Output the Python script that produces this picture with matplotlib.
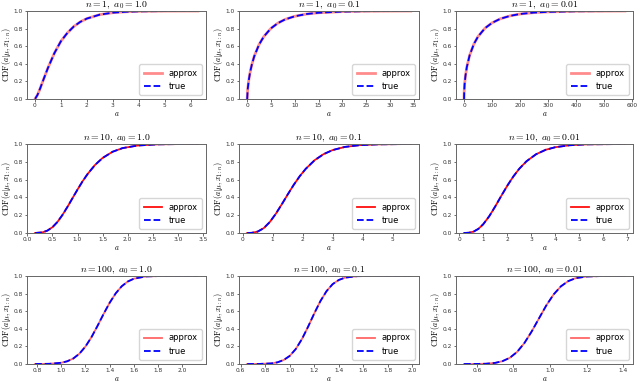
import matplotlib
matplotlib.use("Agg")
import matplotlib.pyplot as plt

# ---- data ----
n_values = [1, 10, 100]
a0_values = ["1.0", "0.1", "0.01"]

# row 1 : n = 1
x_n1_a1 = [0.01, 0.1, 0.2, 0.35, 0.5, 0.75, 1.0, 1.25, 1.5, 1.75, 2.0, 2.5, 3.0, 3.5, 4.0, 5.0, 6.27]
cdf_n1_a1 = [0.002, 0.046, 0.118, 0.236, 0.351, 0.521, 0.656, 0.751, 0.825, 0.877, 0.914, 0.959, 0.981, 0.991, 0.996, 0.999, 1.0]

x_n1_a01 = [0.0, 0.1, 0.3, 0.6, 1.0, 1.5, 2.5, 3.5, 5.0, 6.5, 8.0, 10.0, 12.5, 15.0, 20.0, 25.0, 34.4]
cdf_n1_a01 = [0.0, 0.106, 0.202, 0.300, 0.396, 0.488, 0.619, 0.710, 0.803, 0.864, 0.905, 0.940, 0.966, 0.980, 0.993, 0.998, 1.0]

x_n1_a001 = [0.0, 0.5, 2, 5, 10, 20, 35, 50, 75, 100, 130, 165, 200, 250, 300, 400, 575]
cdf_n1_a001 = [0.0, 0.084, 0.168, 0.262, 0.364, 0.497, 0.624, 0.710, 0.805, 0.865, 0.912, 0.945, 0.966, 0.982, 0.990, 0.997, 1.0]

# row 2 : n = 10
x_n10_a1 = [0.155, 0.3, 0.4, 0.5, 0.6, 0.7, 0.8, 0.9, 1.0, 1.1, 1.2, 1.35, 1.5, 1.7, 1.9, 2.2, 2.6, 3.0, 3.4]
cdf_n10_a1 = [0.0003, 0.007, 0.027, 0.065, 0.124, 0.203, 0.294, 0.391, 0.488, 0.580, 0.662, 0.765, 0.843, 0.913, 0.954, 0.983, 0.996, 0.999, 1.0]

x_n10_a01 = [0.15, 0.3, 0.5, 0.7, 0.9, 1.1, 1.3, 1.5, 1.7, 1.9, 2.1, 2.4, 2.7, 3.0, 3.4, 3.9, 4.5, 5.6]
cdf_n10_a01 = [0.0001, 0.002, 0.016, 0.054, 0.122, 0.214, 0.321, 0.433, 0.541, 0.638, 0.721, 0.819, 0.887, 0.932, 0.967, 0.987, 0.996, 1.0]

x_n10_a001 = [0.2, 0.4, 0.6, 0.8, 1.0, 1.25, 1.5, 1.75, 2.0, 2.25, 2.5, 2.8, 3.2, 3.6, 4.0, 4.6, 5.3, 6.9]
cdf_n10_a001 = [0.0002, 0.003, 0.016, 0.047, 0.099, 0.189, 0.299, 0.417, 0.531, 0.634, 0.722, 0.806, 0.885, 0.935, 0.964, 0.986, 0.996, 1.0]

# row 3 : n = 100
x_n100_a1 = [0.784, 0.90, 1.00, 1.05, 1.10, 1.15, 1.20, 1.25, 1.30, 1.35, 1.40, 1.45, 1.50, 1.55, 1.60, 1.70, 1.80, 1.95, 2.13]
cdf_n100_a1 = [0.0001, 0.002, 0.014, 0.031, 0.063, 0.117, 0.198, 0.305, 0.433, 0.568, 0.695, 0.802, 0.883, 0.937, 0.969, 0.995, 0.999, 1.0, 1.0]

x_n100_a01 = [0.653, 0.75, 0.85, 0.90, 0.95, 1.00, 1.05, 1.10, 1.15, 1.20, 1.25, 1.30, 1.35, 1.40, 1.45, 1.55, 1.65, 1.80, 1.987]
cdf_n100_a01 = [0.0, 0.0006, 0.007, 0.019, 0.045, 0.092, 0.172, 0.285, 0.425, 0.575, 0.715, 0.828, 0.908, 0.955, 0.981, 0.998, 1.0, 1.0, 1.0]

x_n100_a001 = [0.53, 0.60, 0.65, 0.70, 0.74, 0.78, 0.82, 0.86, 0.90, 0.94, 0.98, 1.02, 1.06, 1.10, 1.14, 1.20, 1.28, 1.41]
cdf_n100_a001 = [0.0001, 0.0007, 0.003, 0.0125, 0.032, 0.070, 0.137, 0.238, 0.370, 0.519, 0.666, 0.791, 0.883, 0.942, 0.975, 0.994, 0.9995, 1.0]

panels = [
    [(x_n1_a1, cdf_n1_a1), (x_n1_a01, cdf_n1_a01), (x_n1_a001, cdf_n1_a001)],
    [(x_n10_a1, cdf_n10_a1), (x_n10_a01, cdf_n10_a01), (x_n10_a001, cdf_n10_a001)],
    [(x_n100_a1, cdf_n100_a1), (x_n100_a01, cdf_n100_a01), (x_n100_a001, cdf_n100_a001)],
]

# ---- style ----
plt.rcParams['mathtext.fontset'] = 'cm'
plt.rcParams['font.family'] = ['DejaVu Sans']

W, H = 640, 383
fig = plt.figure(figsize=(W / 100, H / 100), dpi=100)

col_px = [(27, 206), (239, 419), (456, 633)]
row_px = [(11, 99), (144, 233), (276, 364)]

approx_style = [dict(lw=2.0, alpha=0.45), dict(lw=1.3, alpha=0.95), dict(lw=1.3, alpha=0.6)]

for r in range(3):
    for c in range(3):
        x0, x1 = col_px[c]
        t0, t1 = row_px[r]
        ax = fig.add_axes([x0 / W, 1 - t1 / H, (x1 - x0) / W, (t1 - t0) / H])
        xs, ys = panels[r][c]
        ax.plot(xs, ys, color='red', label='approx', **approx_style[r])
        ax.plot(xs, ys, color='blue', ls='--', lw=1.3, label='true')
        ax.set_ylim(0, 1.0)
        ax.margins(x=0.05)
        ax.set_yticks([0.0, 0.2, 0.4, 0.6, 0.8, 1.0])
        ax.tick_params(labelsize=4.2, length=1.8, width=0.5, pad=1.0, colors='#333333')
        for s in ax.spines.values():
            s.set_color('#666666')
            s.set_linewidth(0.7)
        ax.set_title(r'$n=%d,\ a_0=%s$' % (n_values[r], a0_values[c]), fontsize=7, pad=2)
        ax.set_xlabel(r'$a$', fontsize=5.5, labelpad=0.5)
        ax.set_ylabel(r'$\mathrm{CDF}(a|\mu, x_{1:n})$', fontsize=5.8, labelpad=0.5)
        ax.legend(loc='lower right', fontsize=6, handlelength=2.2, borderpad=0.5,
                  labelspacing=0.5, frameon=True, edgecolor='#cccccc')

fig.savefig('out.png', dpi=100)
